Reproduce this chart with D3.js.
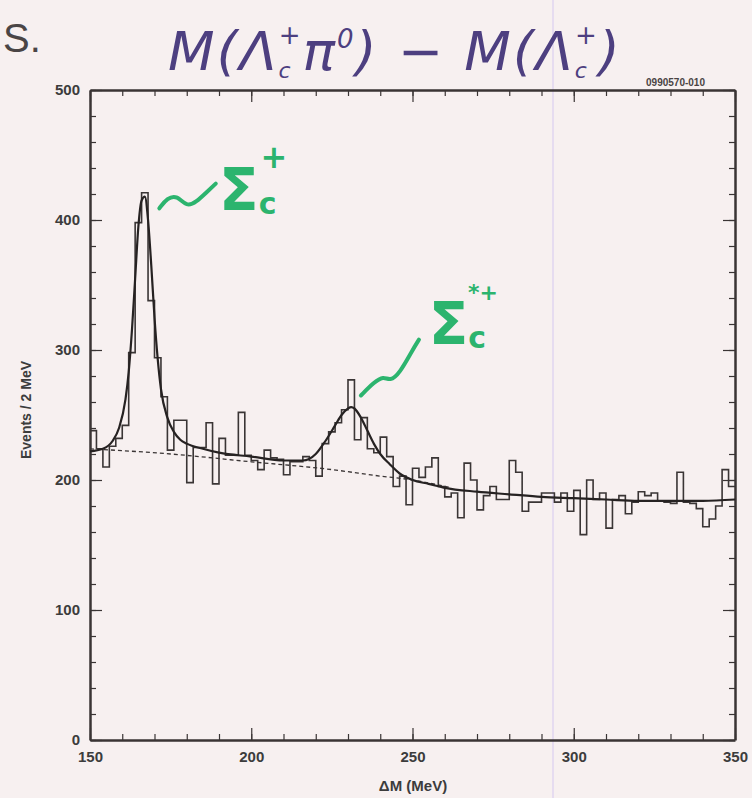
<!DOCTYPE html>
<html>
<head>
<meta charset="utf-8">
<title>M(Λc+π0) − M(Λc+)</title>
<script src="https://cdnjs.cloudflare.com/ajax/libs/d3/7.8.5/d3.min.js"></script>
<style>
  body { margin: 0; background: #f7f0f0; }
  svg { display: block; }
  .tick text { font-family: "Liberation Sans", Arial, sans-serif; font-weight: bold; font-size: 15px; fill: #3c3c3c; }
  .axis path.domain { stroke: #3a3434; stroke-width: 2.5px; }
  .axis line { stroke: #3a3434; stroke-width: 1.2px; }
</style>
</head>
<body>
<script>
// histogram: 2 MeV bins from 150 to 350 MeV (left edges)
const binStart = 150, binWidth = 2;
const counts = [
  238, 224, 210, 226, 232, 242, 298, 398, 421, 338,
  294, 264, 223, 246, 246, 198, 225, 225, 244, 197,
  232, 219, 219, 252, 219, 215, 208, 223, 217, 216,
  204, 214, 214, 218, 215, 203, 228, 237, 244, 254,
  277, 231, 248, 224, 221, 233, 218, 195, 203, 181,
  209, 202, 210, 217, 195, 187, 190, 171, 213, 200,
  177, 188, 195, 185, 185, 215, 206, 176, 183, 183,
  190, 190, 183, 190, 176, 192, 158, 200, 185, 190,
  163, 185, 188, 174, 183, 191, 188, 190, 184, 183,
  182, 206, 183, 182, 178, 164, 170, 180, 208, 195
];

// fitted curve (signal + background)
const fitM = [150, 154, 157, 159, 161, 162, 163, 164, 165, 166, 167, 168, 169, 170, 171, 172, 174, 176, 178, 180,
              185, 190, 200, 210, 216, 220, 223, 226, 228, 230, 231, 232, 234, 236, 238, 240, 243, 246, 250, 255,
              260, 270, 280, 290, 300, 310, 320, 330, 340, 350];
const fitV = [222, 224, 230, 240, 262, 283, 315, 355, 395, 415, 418, 400, 365, 325, 293, 270, 248, 237, 231, 228,
              224, 221, 218, 215, 215, 220, 230, 242, 250, 255, 256, 255, 248, 238, 228, 220, 212, 205, 200, 197,
              194, 191, 189, 187, 186, 185, 184, 184, 184, 185];

// background only (dashed)
const bgM = [150, 175, 200, 225, 240, 250, 262];
const bgV = [224, 220, 214, 208, 203, 200, 194];

const xMajor = [150, 200, 250, 300, 350];
const xMinor = d3.range(150, 351, 10);
const yMajor = [0, 100, 200, 300, 400, 500];
const yMinor = d3.range(0, 501, 20);

const W = 752, H = 798;
const svg = d3.select('body').append('svg').attr('width', W).attr('height', H);

svg.append('rect').attr('width', W).attr('height', H).attr('fill', '#f7f0f0');

const x = d3.scaleLinear().domain([150, 350]).range([90, 735]);
const y = d3.scaleLinear().domain([0, 500]).range([740, 90]);

// faint scanner streak
svg.append('line').attr('x1', 553).attr('x2', 553).attr('y1', 0).attr('y2', H)
  .attr('stroke', '#e6dcf0').attr('stroke-width', 2);

// axes, ticks pointing inward on all four sides
function addAxis(axisFn, scale, major, minor, tx, ty, labels, pad) {
  const gMin = svg.append('g').attr('class', 'axis').attr('transform', `translate(${tx},${ty})`)
    .call(axisFn(scale).tickValues(minor).tickSize(-6).tickSizeOuter(0).tickFormat(''));
  gMin.select('.domain').remove();
  svg.append('g').attr('class', 'axis').attr('transform', `translate(${tx},${ty})`)
    .call(axisFn(scale).tickValues(major).tickSize(-12).tickSizeOuter(0).tickPadding(pad)
      .tickFormat(labels ? d3.format('d') : ''));
}
addAxis(d3.axisBottom, x, xMajor, xMinor, 0, 740, true, 11);
addAxis(d3.axisTop, x, xMajor, xMinor, 0, 90, false, 8);
addAxis(d3.axisLeft, y, yMajor, yMinor, 90, 0, true, 10);
addAxis(d3.axisRight, y, yMajor, yMinor, 735, 0, false, 8);

// histogram as a step line
const histPts = counts.map((c, i) => [binStart + i * binWidth, c]);
histPts.push([binStart + counts.length * binWidth, counts[counts.length - 1]]);
svg.append('path')
  .datum(histPts)
  .attr('fill', 'none')
  .attr('stroke', '#3a3535')
  .attr('stroke-width', 1.6)
  .attr('d', d3.line().x(d => x(d[0])).y(d => y(d[1])).curve(d3.curveStepAfter));

// background dashed
svg.append('path')
  .datum(bgM.map((m, i) => [m, bgV[i]]))
  .attr('fill', 'none')
  .attr('stroke', '#3a3535')
  .attr('stroke-width', 1.3)
  .attr('stroke-dasharray', '4,3')
  .attr('d', d3.line().x(d => x(d[0])).y(d => y(d[1])).curve(d3.curveMonotoneX));

// full fit
svg.append('path')
  .datum(fitM.map((m, i) => [m, fitV[i]]))
  .attr('fill', 'none')
  .attr('stroke', '#262222')
  .attr('stroke-width', 2.2)
  .attr('d', d3.line().x(d => x(d[0])).y(d => y(d[1])).curve(d3.curveMonotoneX));

// axis titles
svg.append('text')
  .attr('x', 413).attr('y', 791)
  .attr('text-anchor', 'middle')
  .style('font-family', '"Liberation Sans", Arial, sans-serif')
  .style('font-weight', 'bold').style('font-size', '15px').attr('fill', '#3c3c3c')
  .text('ΔM (MeV)');

svg.append('text')
  .attr('transform', 'translate(31,410) rotate(-90)')
  .attr('text-anchor', 'middle')
  .style('font-family', '"Liberation Sans", Arial, sans-serif')
  .style('font-weight', 'bold').style('font-size', '14px').attr('fill', '#3c3c3c')
  .text('Events / 2 MeV');

svg.append('text')
  .attr('x', 705).attr('y', 86)
  .attr('text-anchor', 'end')
  .style('font-family', '"Liberation Sans Narrow", "Liberation Sans", Arial, sans-serif')
  .style('font-weight', 'bold').style('font-size', '10px').attr('fill', '#4a4444')
  .text('0990570-010');

// page fragment at top left
svg.append('text')
  .attr('x', 3).attr('y', 52)
  .style('font-family', '"Liberation Sans", Arial, sans-serif')
  .style('font-size', '40px').attr('fill', '#4a4545')
  .text('S.');

// handwritten title
const title = svg.append('text')
  .attr('x', 168).attr('y', 70)
  .style('font-family', '"DejaVu Sans", sans-serif')
  .style('font-style', 'italic')
  .style('letter-spacing', '2px')
  .style('font-size', '54px').attr('fill', '#4d3f80');
title.append('tspan').text('M(Λ');
title.append('tspan').attr('dy', 8).style('font-size', '22px').text('c');
title.append('tspan').attr('dy', -34).attr('dx', -14).style('font-size', '26px').text('+');
title.append('tspan').attr('dy', 26).text('π');
title.append('tspan').attr('dy', -22).style('font-size', '26px').text('0');
title.append('tspan').attr('dy', 22).text(') − M(Λ');
title.append('tspan').attr('dy', 8).style('font-size', '22px').text('c');
title.append('tspan').attr('dy', -34).attr('dx', -14).style('font-size', '26px').text('+');
title.append('tspan').attr('dy', 26).text(')');

// green annotations
const green = '#2cb46e';
const squig = d3.line().x(d => x(d[0])).y(d => y(d[1])).curve(d3.curveBasis);
svg.append('path')
  .attr('d', squig([[171.5, 409], [174, 417], [177, 419], [180, 410], [183, 414], [186, 421], [189, 428]]))
  .attr('fill', 'none').attr('stroke', green).attr('stroke-width', 4).attr('stroke-linecap', 'round');
const s1 = svg.append('text')
  .attr('x', x(190)).attr('y', y(408))
  .style('font-family', '"DejaVu Sans", sans-serif').style('font-weight', 'bold')
  .style('font-size', '58px').attr('fill', green);
s1.append('tspan').text('Σ');
s1.append('tspan').attr('dy', 4).style('font-size', '30px').text('c');
s1.append('tspan').attr('dy', -46).attr('dx', -16).style('font-size', '32px').text('+');

svg.append('path')
  .attr('d', squig([[234, 265], [238, 275], [241, 280], [243, 276], [246, 282], [250, 300], [252, 308]]))
  .attr('fill', 'none').attr('stroke', green).attr('stroke-width', 4).attr('stroke-linecap', 'round');
const s2 = svg.append('text')
  .attr('x', x(255)).attr('y', y(305))
  .style('font-family', '"DejaVu Sans", sans-serif').style('font-weight', 'bold')
  .style('font-size', '58px').attr('fill', green);
s2.append('tspan').text('Σ');
s2.append('tspan').attr('dy', 4).style('font-size', '30px').text('c');
s2.append('tspan').attr('dy', -48).attr('dx', -18).style('font-size', '22px').text('*+');
</script>
</body>
</html>
